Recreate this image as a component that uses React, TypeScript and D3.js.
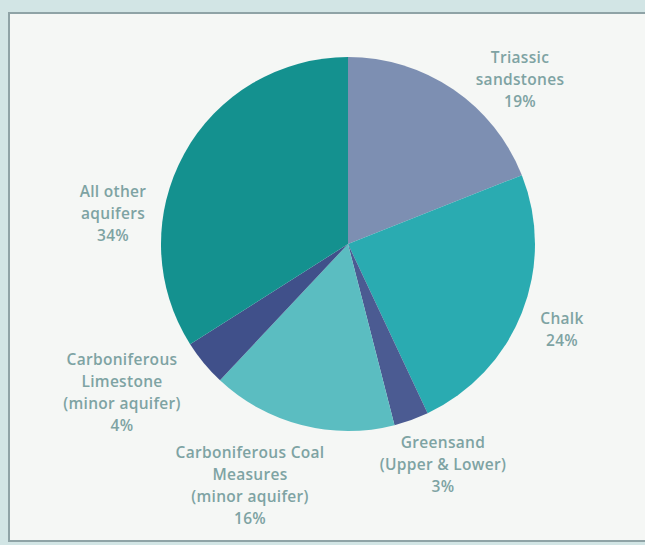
import React from "react";
import * as d3 from "d3";

const categories = [
  "Triassic sandstones",
  "Chalk",
  "Greensand (Upper & Lower)",
  "Carboniferous Coal Measures (minor aquifer)",
  "Carboniferous Limestone (minor aquifer)",
  "All other aquifers",
];
const values = [19, 24, 3, 16, 4, 34];
const colors = ["#7d8fb2", "#2aabb1", "#4b5b92", "#5bbdc1", "#40508a", "#14918f"];
const labelLines = [
  ["Triassic", "sandstones", "19%"],
  ["Chalk", "24%"],
  ["Greensand", "(Upper & Lower)", "3%"],
  ["Carboniferous Coal", "Measures", "(minor aquifer)", "16%"],
  ["Carboniferous", "Limestone", "(minor aquifer)", "4%"],
  ["All other", "aquifers", "34%"],
];
// label anchor positions (centre x, first baseline y)
const labelPos: [number, number][] = [
  [520, 63],
  [562, 324],
  [443, 448],
  [250, 458],
  [122, 365],
  [113, 197],
];

export default function App() {
  const W = 645;
  const H = 545;
  const cx = 348;
  const cy = 244;
  const r = 187;
  const pie = d3
    .pie<number>()
    .sort(null)
    .value((d) => d);
  const arcs = pie(values);
  const arc = d3.arc<d3.PieArcDatum<number>>().innerRadius(0).outerRadius(r);
  const lh = 22;
  return (
    <svg
      width={W}
      height={H}
      style={{ position: "fixed", left: 0, top: 0 }}
      fontFamily="'Open Sans', sans-serif"
    >
      <rect x={0} y={0} width={W} height={H} fill="#d2e5e5" />
      <rect x={9} y={13} width={W + 40} height={528} fill="#f5f7f5" stroke="#8fa3a6" strokeWidth={2} />
      <g transform={`translate(${cx},${cy})`}>
        {arcs.map((a, i) => (
          <path key={categories[i]} d={arc(a) || ""} fill={colors[i]} />
        ))}
      </g>
      {labelLines.map((lines, i) => (
        <text
          key={categories[i]}
          x={labelPos[i][0]}
          y={labelPos[i][1]}
          textAnchor="middle"
          fontSize={15.5}
          fontWeight={600}
          letterSpacing={0.3}
          fill="#7ea3a3"
        >
          {lines.map((t, j) => (
            <tspan key={j} x={labelPos[i][0]} y={labelPos[i][1] + j * lh}>
              {t}
            </tspan>
          ))}
        </text>
      ))}
    </svg>
  );
}
